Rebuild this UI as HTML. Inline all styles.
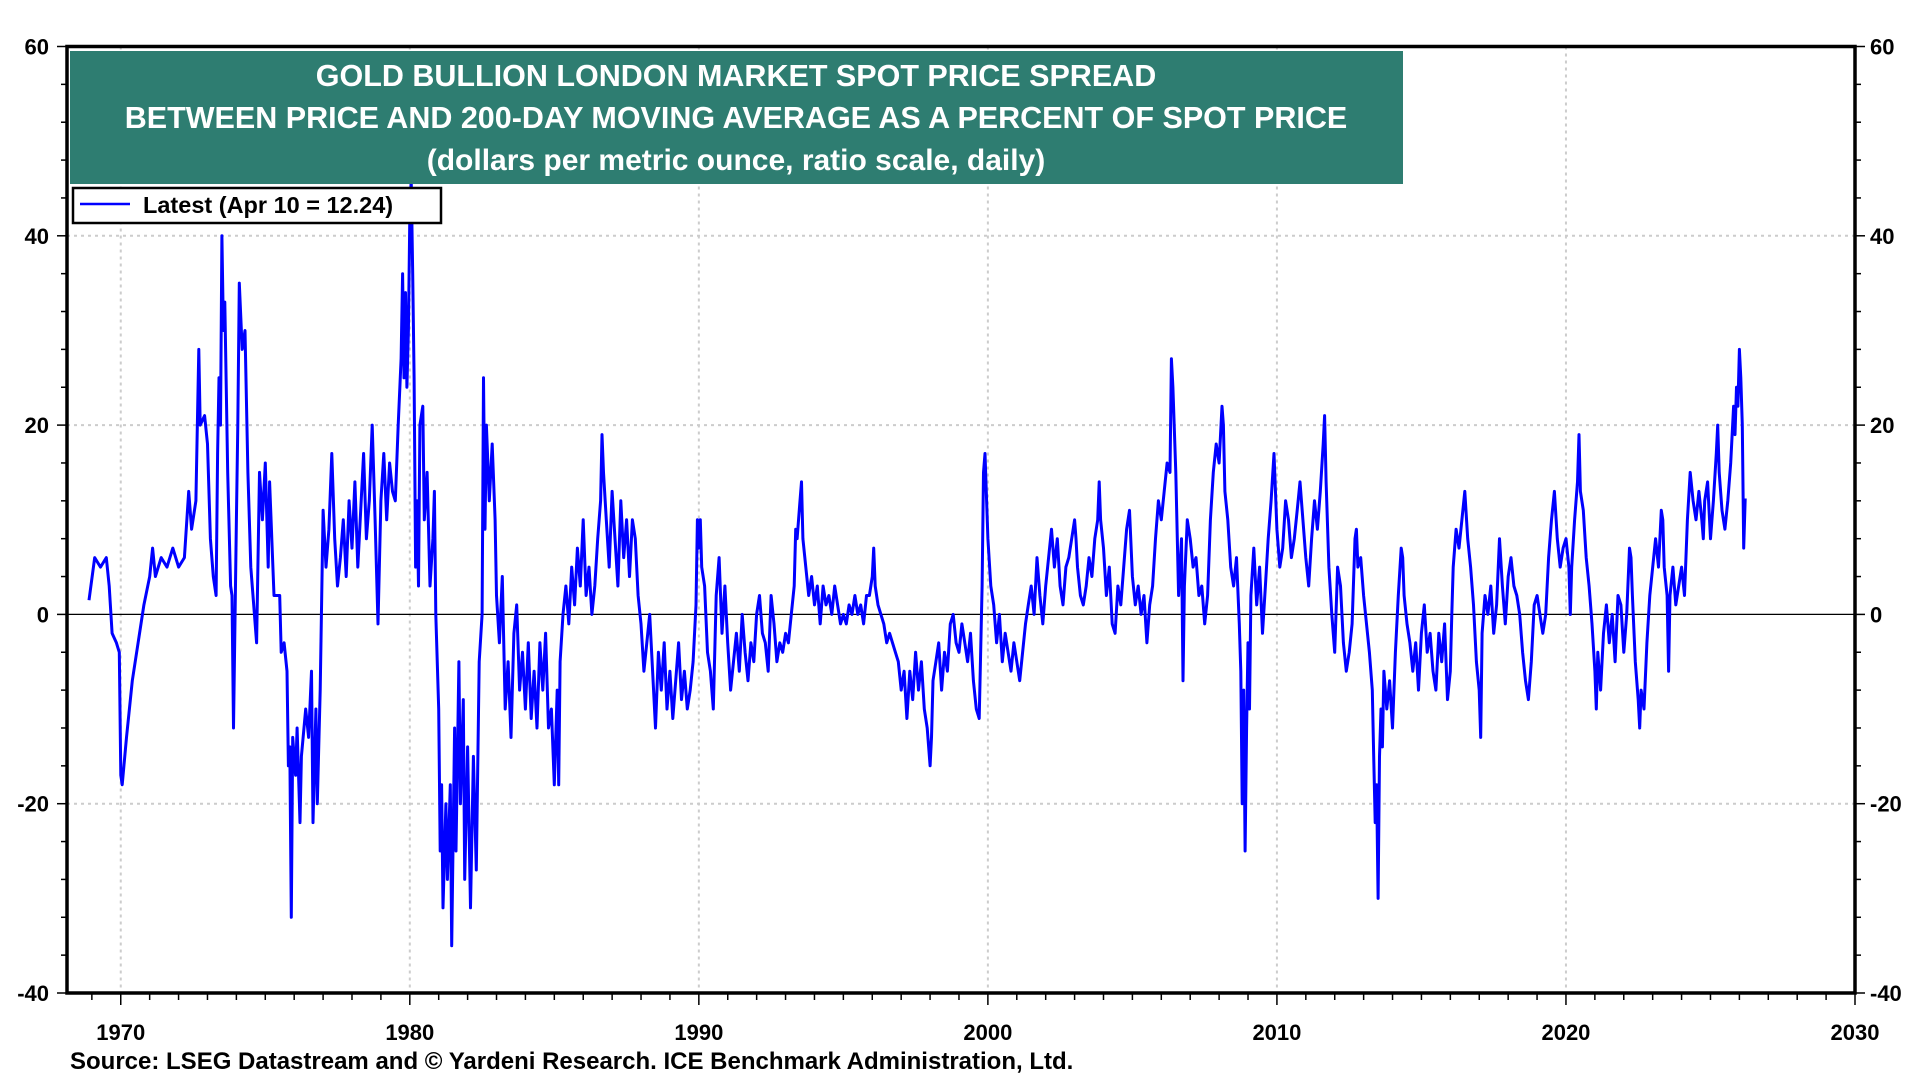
<!DOCTYPE html>
<html><head><meta charset="utf-8"><style>
html,body{margin:0;padding:0;background:#fff;}
svg{display:block;font-family:"Liberation Sans",Arial,sans-serif;}
</style></head><body>
<svg id="chart" width="1920" height="1080" viewBox="0 0 1920 1080" xmlns="http://www.w3.org/2000/svg">
<g id="grid"></g>
<g id="axes"></g>
<g id="series"></g>
<rect x="70" y="51" width="1333" height="133" fill="#2e7d71"/>
<text x="736" y="86" fill="#fff" font-size="30.5" font-weight="bold" text-anchor="middle">GOLD BULLION LONDON MARKET SPOT PRICE SPREAD</text>
<text x="736" y="128" fill="#fff" font-size="30.5" font-weight="bold" text-anchor="middle">BETWEEN PRICE AND 200-DAY MOVING AVERAGE AS A PERCENT OF SPOT PRICE</text>
<text x="736" y="170" fill="#fff" font-size="30" font-weight="bold" text-anchor="middle">(dollars per metric ounce, ratio scale, daily)</text>
<g>
<rect x="73" y="188" width="368" height="35" fill="#fff" stroke="#000" stroke-width="2.5"/>
<line x1="80" y1="204" x2="130" y2="204" stroke="#0000ff" stroke-width="2.5"/>
<text x="143" y="213" font-size="23.5" font-weight="bold">Latest (Apr 10 = 12.24)</text>
</g>
<text x="70" y="1069" font-size="24" font-weight="bold">Source: LSEG Datastream and © Yardeni Research. ICE Benchmark Administration, Ltd.</text>
</svg>
<script>
const yTicks=[-40,-20,0,20,40,60];
const xTicks=[1970,1980,1990,2000,2010,2020,2030];
const years=[1968.9,1969.1,1969.3,1969.5,1969.6,1969.7,1969.85,1969.95,1970.0,1970.05,1970.2,1970.4,1970.6,1970.8,1971.0,1971.1,1971.2,1971.4,1971.6,1971.8,1972.0,1972.2,1972.35,1972.45,1972.6,1972.7,1972.75,1972.9,1973.0,1973.1,1973.2,1973.3,1973.35,1973.4,1973.45,1973.5,1973.55,1973.6,1973.7,1973.8,1973.85,1973.9,1974.0,1974.05,1974.1,1974.2,1974.3,1974.4,1974.5,1974.6,1974.7,1974.8,1974.9,1975.0,1975.1,1975.15,1975.3,1975.5,1975.55,1975.65,1975.75,1975.8,1975.85,1975.9,1975.95,1976.05,1976.1,1976.2,1976.25,1976.4,1976.5,1976.6,1976.65,1976.75,1976.8,1976.9,1977.0,1977.1,1977.2,1977.3,1977.4,1977.5,1977.6,1977.7,1977.8,1977.9,1978.0,1978.1,1978.2,1978.3,1978.4,1978.5,1978.6,1978.7,1978.8,1978.9,1979.0,1979.1,1979.2,1979.3,1979.4,1979.5,1979.6,1979.7,1979.75,1979.8,1979.85,1979.9,1979.95,1980.0,1980.05,1980.1,1980.15,1980.2,1980.25,1980.3,1980.35,1980.45,1980.5,1980.6,1980.7,1980.8,1980.85,1980.9,1981.0,1981.05,1981.1,1981.15,1981.25,1981.3,1981.4,1981.45,1981.55,1981.6,1981.7,1981.75,1981.85,1981.9,1982.0,1982.1,1982.2,1982.3,1982.4,1982.5,1982.55,1982.6,1982.65,1982.75,1982.85,1982.95,1983.0,1983.1,1983.2,1983.3,1983.4,1983.5,1983.6,1983.7,1983.8,1983.9,1984.0,1984.1,1984.2,1984.3,1984.4,1984.5,1984.6,1984.7,1984.8,1984.9,1985.0,1985.1,1985.15,1985.2,1985.3,1985.4,1985.5,1985.6,1985.7,1985.8,1985.9,1986.0,1986.1,1986.2,1986.3,1986.4,1986.5,1986.6,1986.65,1986.7,1986.8,1986.9,1987.0,1987.1,1987.2,1987.3,1987.4,1987.5,1987.6,1987.7,1987.8,1987.9,1988.0,1988.1,1988.2,1988.3,1988.4,1988.5,1988.6,1988.7,1988.8,1988.9,1989.0,1989.1,1989.2,1989.3,1989.4,1989.5,1989.6,1989.7,1989.8,1989.9,1989.95,1990.0,1990.05,1990.1,1990.2,1990.3,1990.4,1990.5,1990.6,1990.7,1990.8,1990.9,1991.0,1991.1,1991.2,1991.3,1991.4,1991.5,1991.6,1991.7,1991.8,1991.9,1992.0,1992.1,1992.2,1992.3,1992.4,1992.5,1992.6,1992.7,1992.8,1992.9,1993.0,1993.1,1993.2,1993.3,1993.35,1993.4,1993.5,1993.55,1993.6,1993.7,1993.8,1993.9,1994.0,1994.1,1994.2,1994.3,1994.4,1994.5,1994.6,1994.7,1994.8,1994.9,1995.0,1995.1,1995.2,1995.3,1995.4,1995.5,1995.6,1995.7,1995.8,1995.9,1996.0,1996.05,1996.1,1996.2,1996.3,1996.4,1996.5,1996.6,1996.7,1996.8,1996.9,1997.0,1997.1,1997.2,1997.3,1997.4,1997.5,1997.6,1997.7,1997.8,1997.9,1998.0,1998.05,1998.1,1998.2,1998.3,1998.4,1998.5,1998.6,1998.7,1998.8,1998.9,1999.0,1999.1,1999.2,1999.3,1999.4,1999.5,1999.6,1999.7,1999.8,1999.85,1999.9,2000.0,2000.1,2000.2,2000.3,2000.4,2000.5,2000.6,2000.7,2000.8,2000.9,2001.0,2001.1,2001.2,2001.3,2001.4,2001.5,2001.6,2001.7,2001.8,2001.9,2002.0,2002.1,2002.2,2002.3,2002.4,2002.5,2002.6,2002.7,2002.8,2002.9,2003.0,2003.05,2003.1,2003.2,2003.3,2003.4,2003.5,2003.6,2003.7,2003.8,2003.85,2003.9,2004.0,2004.1,2004.2,2004.3,2004.4,2004.5,2004.6,2004.7,2004.8,2004.9,2005.0,2005.1,2005.2,2005.3,2005.4,2005.5,2005.6,2005.7,2005.8,2005.9,2006.0,2006.1,2006.2,2006.3,2006.35,2006.4,2006.5,2006.6,2006.7,2006.75,2006.8,2006.9,2007.0,2007.1,2007.2,2007.3,2007.4,2007.5,2007.6,2007.7,2007.8,2007.9,2008.0,2008.1,2008.15,2008.2,2008.3,2008.4,2008.5,2008.6,2008.7,2008.75,2008.8,2008.85,2008.9,2008.95,2009.0,2009.05,2009.1,2009.2,2009.3,2009.4,2009.5,2009.6,2009.7,2009.8,2009.9,2010.0,2010.1,2010.2,2010.3,2010.4,2010.5,2010.6,2010.7,2010.8,2010.9,2011.0,2011.1,2011.2,2011.3,2011.4,2011.5,2011.6,2011.65,2011.7,2011.8,2011.9,2012.0,2012.1,2012.2,2012.3,2012.4,2012.5,2012.6,2012.7,2012.75,2012.8,2012.9,2013.0,2013.1,2013.2,2013.3,2013.35,2013.4,2013.45,2013.5,2013.55,2013.6,2013.65,2013.7,2013.8,2013.9,2014.0,2014.1,2014.2,2014.3,2014.35,2014.4,2014.5,2014.6,2014.7,2014.8,2014.9,2015.0,2015.1,2015.2,2015.3,2015.4,2015.5,2015.6,2015.7,2015.8,2015.9,2016.0,2016.05,2016.1,2016.2,2016.3,2016.4,2016.5,2016.6,2016.7,2016.8,2016.9,2017.0,2017.05,2017.1,2017.2,2017.3,2017.4,2017.5,2017.6,2017.7,2017.8,2017.9,2018.0,2018.1,2018.2,2018.3,2018.4,2018.5,2018.6,2018.7,2018.8,2018.9,2019.0,2019.1,2019.2,2019.3,2019.4,2019.5,2019.6,2019.7,2019.8,2019.9,2020.0,2020.1,2020.15,2020.2,2020.3,2020.4,2020.45,2020.5,2020.6,2020.7,2020.8,2020.9,2021.0,2021.05,2021.1,2021.2,2021.3,2021.4,2021.5,2021.6,2021.7,2021.8,2021.9,2022.0,2022.1,2022.2,2022.25,2022.3,2022.4,2022.5,2022.55,2022.6,2022.7,2022.8,2022.9,2023.0,2023.1,2023.2,2023.3,2023.35,2023.4,2023.5,2023.55,2023.6,2023.7,2023.8,2023.9,2024.0,2024.1,2024.2,2024.3,2024.4,2024.5,2024.6,2024.7,2024.75,2024.8,2024.9,2025.0,2025.1,2025.2,2025.25,2025.3,2025.4,2025.5,2025.6,2025.7,2025.8,2025.85,2025.9,2025.95,2026.0,2026.05,2026.1,2026.15,2026.2];
const spread=[1.5,6,5,6,3,-2,-3,-4,-17,-18,-13,-7,-3,1,4,7,4,6,5,7,5,6,13,9,12,28,20,21,18,8,4,2,17,25,20,40,30,33,15,3,2,-12,10,20,35,28,30,15,5,1,-3,15,10,16,5,14,2,2,-4,-3,-6,-16,-14,-32,-13,-17,-12,-22,-15,-10,-13,-6,-22,-10,-20,-8,11,5,9,17,8,3,6,10,4,12,7,14,5,11,17,8,12,20,10,-1,12,17,10,16,13,12,20,27,36,25,34,24,30,42,46,36,25,5,12,3,20,22,10,15,3,8,13,0,-10,-25,-18,-31,-20,-28,-18,-35,-12,-25,-5,-20,-9,-28,-14,-31,-15,-27,-5,0,25,9,20,12,18,10,2,-3,4,-10,-5,-13,-2,1,-8,-4,-10,-3,-11,-6,-12,-3,-8,-2,-12,-10,-18,-8,-18,-5,0,3,-1,5,1,7,3,10,2,5,0,3,8,12,19,15,10,5,13,8,3,12,6,10,4,10,8,2,-1,-6,-3,0,-6,-12,-4,-8,-3,-10,-6,-11,-7,-3,-9,-6,-10,-8,-5,1,10,7,10,5,3,-4,-6,-10,2,6,-2,3,-3,-8,-5,-2,-6,0,-4,-7,-3,-5,0,2,-2,-3,-6,2,-1,-5,-3,-4,-2,-3,0,3,9,8,12,14,8,5,2,4,1,3,-1,3,1,2,0,3,1,-1,0,-1,1,0,2,0,1,-1,2,2,4,7,3,1,0,-1,-3,-2,-3,-4,-5,-8,-6,-11,-6,-9,-4,-8,-5,-10,-12,-16,-13,-7,-5,-3,-8,-4,-6,-1,0,-3,-4,-1,-3,-5,-2,-7,-10,-11,3,15,17,8,3,1,-3,0,-5,-2,-4,-6,-3,-5,-7,-4,-1,1,3,0,6,2,-1,3,6,9,5,8,3,1,5,6,8,10,8,5,2,1,3,6,4,8,10,14,10,7,2,5,-1,-2,3,1,5,9,11,4,1,3,0,2,-3,1,3,8,12,10,13,16,15,27,24,15,2,8,-7,3,10,8,5,6,2,3,-1,2,10,15,18,16,22,20,13,10,5,3,6,-1,-6,-20,-8,-25,-12,-3,-10,2,7,1,5,-2,3,8,12,17,9,5,7,12,10,6,8,11,14,10,6,3,8,12,9,13,18,21,14,5,0,-4,5,3,-3,-6,-4,-1,8,9,5,6,2,-1,-4,-8,-15,-22,-18,-30,-15,-10,-14,-6,-10,-7,-12,-4,2,7,6,2,-1,-3,-6,-3,-8,-2,1,-4,-2,-6,-8,-2,-5,-1,-9,-6,0,5,9,7,10,13,8,5,1,-5,-8,-13,-2,2,0,3,-2,1,8,3,-1,4,6,3,2,0,-4,-7,-9,-5,1,2,0,-2,0,6,10,13,8,5,7,8,5,0,5,10,14,19,13,11,6,3,-1,-6,-10,-4,-8,-2,1,-3,0,-5,2,1,-4,0,7,6,2,-5,-9,-12,-8,-10,-3,2,5,8,5,11,10,5,2,-6,2,5,1,3,5,2,10,15,12,10,13,10,8,12,14,8,12,17,20,15,11,9,12,16,22,19,24,22,28,25,20,7,12.24];

const L=67,R=1855,T=46.5,B=993;
const X0=1968.14,X1=2030,Y0=-40,Y1=60;
function xs(v){return L+(v-X0)/(X1-X0)*(R-L);}
function ys(v){return B-(v-Y0)/(Y1-Y0)*(B-T);}
const NS="http://www.w3.org/2000/svg";
function mk(tag,attrs,parent){const e=document.createElementNS(NS,tag);for(const k in attrs)e.setAttribute(k,attrs[k]);parent.appendChild(e);return e;}
const grid=document.getElementById('grid'),axes=document.getElementById('axes'),series=document.getElementById('series');

yTicks.forEach(v=>{
  if(v!==Y0&&v!==Y1&&v!==0){
    const g=mk('line',{x1:L,x2:R,y1:ys(v),y2:ys(v),stroke:'#cccccc','stroke-width':2,'stroke-dasharray':'3,4'},grid);
    
    
  }
  const tl=mk('text',{x:L-18,y:ys(v)+8,'font-size':22,'font-weight':'bold','text-anchor':'end'},axes);
  tl.textContent=v;
  
  
  const tr=mk('text',{x:R+15,y:ys(v)+8,'font-size':22,'font-weight':'bold','text-anchor':'start'},axes);
  tr.textContent=v;
  
  
});
for(let v=Y0;v<=Y1;v+=4){
  const major=(v%20===0);
  const a=mk('line',{x1:L-(major?10:6),x2:L,y1:ys(v),y2:ys(v),stroke:'#000','stroke-width':1.5},axes);
  
  
  const b=mk('line',{x1:R,x2:R+(major?10:6),y1:ys(v),y2:ys(v),stroke:'#000','stroke-width':1.5},axes);
  
  
}
xTicks.forEach(v=>{
  if(v<2030){
    const g=mk('line',{x1:xs(v),x2:xs(v),y1:T,y2:B,stroke:'#cccccc','stroke-width':2,'stroke-dasharray':'3,4'},grid);
    
    
  }
  const t=mk('text',{x:xs(v),y:B+47,'font-size':22,'font-weight':'bold','text-anchor':'middle'},axes);
  t.textContent=v;
  
  
});
for(let yr=1969;yr<=2030;yr++){
  const major=(yr%10===0);
  const t=mk('line',{x1:xs(yr),x2:xs(yr),y1:B,y2:B+(major?12:7),stroke:'#000','stroke-width':1.5},axes);
  
  
}
const zl=mk('line',{x1:L,x2:R,y1:ys(0),y2:ys(0),stroke:'#000','stroke-width':1.2},grid);


const frame=mk('rect',{x:L,y:T,width:R-L,height:B-T,fill:'none',stroke:'#000','stroke-width':3.5},axes);



let d='';
years.forEach((yr,i)=>{d+=(i?'L':'M')+xs(yr).toFixed(1)+','+ys(spread[i]).toFixed(1);});
const line=mk('path',{d:d,fill:'none',stroke:'#0000ff','stroke-width':3,'stroke-linejoin':'round'},series);


</script>
</body></html>
